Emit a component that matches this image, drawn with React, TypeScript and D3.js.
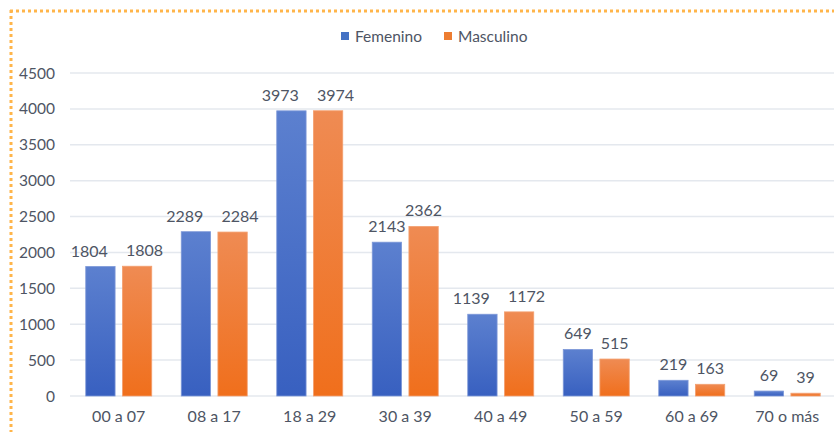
import React, { useEffect, useRef } from 'react';
import * as d3 from "d3";

const categories = ["00 a 07", "08 a 17", "18 a 29", "30 a 39", "40 a 49", "50 a 59", "60 a 69", "70 o más"];
const femenino = [1804, 2289, 3973, 2143, 1139, 649, 219, 69];
const masculino = [1808, 2284, 3974, 2362, 1172, 515, 163, 39];
const seriesNames = ["Femenino", "Masculino"];
const yTicks = [0, 500, 1000, 1500, 2000, 2500, 3000, 3500, 4000, 4500];

const width = 834;
const height = 432;
const FONT = "Lato, 'Open Sans', sans-serif";
const TEXT = "#4e5564";

const App = () => {
    const svgRef = useRef<SVGSVGElement | null>(null);

    useEffect(() => {
        if (!svgRef.current) return;
        const svg = d3.select(svgRef.current);
        svg.selectAll("*").remove();

        const defs = svg.append("defs");
        const grads = [
            { id: "gBlue", top: "#5c80cf", bottom: "#3860c0" },
            { id: "gOrange", top: "#ef8b53", bottom: "#f06f1c" },
        ];
        grads.forEach(g => {
            const lg = defs.append("linearGradient").attr("id", g.id)
                .attr("x1", 0).attr("y1", 0).attr("x2", 0).attr("y2", 1);
            lg.append("stop").attr("offset", "0%").attr("stop-color", g.top);
            lg.append("stop").attr("offset", "100%").attr("stop-color", g.bottom);
        });
        const legendColors = ["#4472c4", "#ed7d31"];

        // dotted frame
        svg.append("line").attr("x1", 10).attr("x2", width).attr("y1", 11).attr("y2", 11)
            .attr("stroke", "#ffb54a").attr("stroke-width", 3).attr("stroke-dasharray", "3 3");
        svg.append("line").attr("x1", 11).attr("x2", 11).attr("y1", 10).attr("y2", height)
            .attr("stroke", "#ffb54a").attr("stroke-width", 3).attr("stroke-dasharray", "3 3");

        const x0 = d3.scaleBand().domain(categories).range([71, 835]).padding(0);
        const x1 = d3.scaleBand().domain(seriesNames).range([x0.bandwidth() / 2 - 33, x0.bandwidth() / 2 + 33]).paddingInner(0.2);
        const y = d3.scaleLinear().domain([0, 4500]).range([396, 73]);

        // grid
        svg.append("g").selectAll("line").data(yTicks).enter().append("line")
            .attr("x1", 70).attr("x2", width)
            .attr("y1", d => y(d)).attr("y2", d => y(d))
            .attr("stroke", "#e4e8ee").attr("stroke-width", 1.5);

        svg.append("g").selectAll("text").data(yTicks).enter().append("text")
            .attr("x", 55).attr("y", d => y(d) + 5.5)
            .attr("text-anchor", "end")
            .attr("font-family", FONT).attr("font-size", 15.5).attr("fill", TEXT)
            .text(d => String(d));

        const series = [femenino, masculino];
        const labels: SVGTextElement[][] = [];
        series.forEach((vals, si) => {
            const g = svg.append("g");
            const rows = categories.map((c, i) => ({ c, v: vals[i] }));
            g.selectAll("rect").data(rows).enter().append("rect")
                .attr("x", d => (x0(d.c) || 0) + (x1(seriesNames[si]) || 0))
                .attr("width", x1.bandwidth())
                .attr("y", d => y(d.v))
                .attr("height", d => y(0) - y(d.v))
                .attr("fill", `url(#${grads[si].id})`)
                .attr("stroke", si === 0 ? "#7d98d8" : "#f3a070").attr("stroke-width", 0.8);
            const t = g.selectAll<SVGTextElement, { c: string; v: number }>("text").data(rows).enter().append("text")
                .attr("x", d => (x0(d.c) || 0) + (x1(seriesNames[si]) || 0) + x1.bandwidth() / 2)
                .attr("y", d => y(d.v) - 10)
                .attr("text-anchor", "middle")
                .attr("font-family", FONT).attr("font-size", 16).attr("fill", TEXT)
                .text(d => String(d.v));
            labels.push(t.nodes());
        });

        // nudge labels apart only when they really collide
        labels[0].forEach((a, i) => {
            const b = labels[1][i];
            const ax = +a.getAttribute("x")!, bx = +b.getAttribute("x")!;
            const ay = +a.getAttribute("y")!, by = +b.getAttribute("y")!;
            if (Math.abs(ay - by) > 14) return;
            const aw = a.getComputedTextLength(), bw = b.getComputedTextLength();
            const gap = (bx - bw / 2) - (ax + aw / 2);
            if (gap >= 5) return;
            const need = 18 - gap;
            a.setAttribute("x", String(ax - need * 0.6));
            b.setAttribute("x", String(bx + need * 0.4));
        });

        svg.append("g").selectAll("text").data(categories).enter().append("text")
            .attr("x", d => (x0(d) || 0) + x0.bandwidth() / 2)
            .attr("y", 422)
            .attr("text-anchor", "middle")
            .attr("font-family", FONT).attr("font-size", 16).attr("fill", TEXT)
            .text(d => d);

        // legend
        const legendX = [341, 444];
        seriesNames.forEach((s, i) => {
            svg.append("rect").attr("x", legendX[i]).attr("y", 32).attr("width", 8).attr("height", 8)
                .attr("fill", legendColors[i]);
            svg.append("text").attr("x", legendX[i] + 14).attr("y", 41.5)
                .attr("font-family", FONT).attr("font-size", 15.5).attr("fill", TEXT)
                .text(s);
        });
    }, []);

    return (
        <svg ref={svgRef} width={width} height={height}
            style={{ position: "absolute", left: 0, top: 0, background: "#fff" }} />
    );
};

export default App;
